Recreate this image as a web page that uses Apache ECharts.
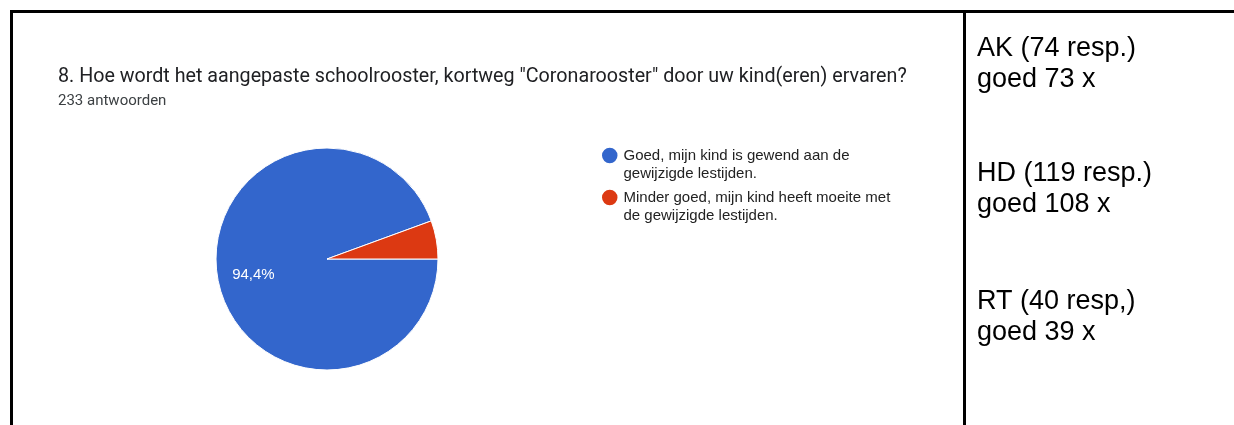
<!DOCTYPE html>
<html>
<head>
<meta charset="utf-8">
<script src="https://cdn.jsdelivr.net/npm/echarts@6/dist/echarts.min.js"></script>
<style>
html,body{margin:0;padding:0;background:#fff;}
#c{width:1234px;height:425px;}
</style>
</head>
<body>
<div id="c"></div>
<script>
const questionTitle = '8. Hoe wordt het aangepaste schoolrooster, kortweg "Coronarooster" door uw kind(eren) ervaren?';
const answerCount = '233 antwoorden';
const categories = ['Goed, mijn kind is gewend aan de\ngewijzigde lestijden.', 'Minder goed, mijn kind heeft moeite met\nde gewijzigde lestijden.'];
const counts = [220, 13];
const percentLabels = ['94,4%', ''];
const sideHeads = ['AK (74 resp.)', 'HD (119 resp.)', 'RT (40 resp,)'];
const sideGoed = ['goed 73 x', 'goed 108 x', 'goed 39 x'];
const sideTops = [33, 158, 286];

const chart = echarts.init(document.getElementById('c'), null, {renderer: 'canvas'});

const titles = [
  {text: questionTitle, left: 58, top: 67, padding: 0, textStyle: {fontFamily: 'Roboto', fontSize: 19.7, fontWeight: 'normal', color: '#202124'}},
  {text: answerCount, left: 58, top: 94, padding: 0, textStyle: {fontFamily: 'Roboto', fontSize: 15, fontWeight: 'normal', color: '#3c4043'}}
];
sideHeads.forEach((h, i) => {
  titles.push({text: h + '\n' + sideGoed[i], left: 977, top: sideTops[i], padding: 0,
    textStyle: {fontFamily: 'Liberation Sans', fontSize: 27, fontWeight: 'normal', color: '#000', lineHeight: 31}});
});

chart.setOption({
  animation: false,
  backgroundColor: '#fff',
  color: ['#3366cc', '#dc3912'],
  title: titles,
  legend: {
    orient: 'vertical', left: 600, top: 128.5, padding: 0,
    icon: 'circle', itemWidth: 17.5, itemHeight: 17.5, itemGap: -12,
    formatter: n => '\u00a0\n' + n,
    textStyle: {fontFamily: 'Liberation Sans', fontSize: 15, color: '#222', lineHeight: 18},
    data: categories
  },
  graphic: [
    {type: 'rect', shape: {x: 10, y: 10, width: 1224, height: 3}, style: {fill: '#000'}},
    {type: 'rect', shape: {x: 10, y: 10, width: 3, height: 415}, style: {fill: '#000'}},
    {type: 'rect', shape: {x: 963, y: 10, width: 3, height: 415}, style: {fill: '#000'}}
  ],
  series: [{
    type: 'pie',
    center: [327, 259],
    radius: 111,
    startAngle: 0,
    clockwise: true,
    avoidLabelOverlap: false,
    itemStyle: {borderColor: '#fff', borderWidth: 1},
    label: {
      position: 'inside', color: '#fff', fontFamily: 'Liberation Sans', fontSize: 15,
      formatter: p => percentLabels[p.dataIndex]
    },
    labelLayout: p => ({dx: -16, dy: 6}),
    labelLine: {show: false},
    emphasis: {disabled: true},
    data: categories.map((c, i) => ({name: c, value: counts[i]}))
  }]
});
</script>
</body>
</html>
